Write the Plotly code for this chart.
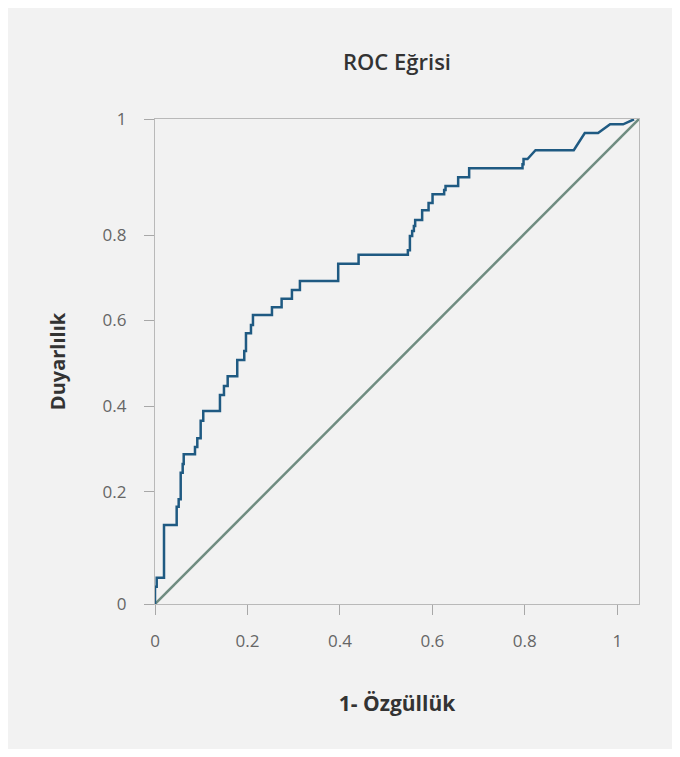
import plotly.graph_objects as go

# ROC curve points (1 - specificity, sensitivity)
fpr = [0, 0, 0.0037, 0.0037, 0.0195, 0.0195, 0.0469, 0.0469, 0.0512, 0.0512,
       0.0556, 0.0556, 0.0599, 0.0599, 0.0621, 0.0621, 0.0865, 0.0865, 0.0915, 0.0915,
       0.0988, 0.0988, 0.1044, 0.1044, 0.1405, 0.1405, 0.1492, 0.1492, 0.1572, 0.1572,
       0.1779, 0.1779, 0.1931, 0.1931, 0.1968, 0.1968, 0.2076, 0.2076, 0.2119, 0.2119,
       0.2530, 0.2530, 0.2739, 0.2739, 0.2962, 0.2962, 0.3135, 0.3135, 0.3963, 0.3963,
       0.4404, 0.4404, 0.5470, 0.5470, 0.5514, 0.5514, 0.5563, 0.5563, 0.5600, 0.5600,
       0.5628, 0.5628, 0.5779, 0.5779, 0.5918, 0.5918, 0.6004, 0.6004, 0.6255, 0.6255,
       0.6285, 0.6285, 0.6558, 0.6558, 0.6796, 0.6796, 0.7950, 0.7950, 0.7972, 0.7972,
       0.8058, 0.8231, 0.9059, 0.9297, 0.9585, 0.9845, 1.0126, 1.0363]
tpr = [0, 0.0357, 0.0357, 0.0542, 0.0542, 0.1629, 0.1629, 0.2006, 0.2006, 0.2159,
       0.2159, 0.2707, 0.2707, 0.2887, 0.2887, 0.3087, 0.3087, 0.3237, 0.3237, 0.3416,
       0.3416, 0.3779, 0.3779, 0.3979, 0.3979, 0.4309, 0.4309, 0.4495, 0.4495, 0.4695,
       0.4695, 0.5031, 0.5031, 0.5216, 0.5216, 0.5581, 0.5581, 0.5753, 0.5753, 0.5959,
       0.5959, 0.6118, 0.6118, 0.6295, 0.6295, 0.6474, 0.6474, 0.6660, 0.6660, 0.7016,
       0.7016, 0.7202, 0.7202, 0.7293, 0.7293, 0.7588, 0.7588, 0.7691, 0.7691, 0.7794,
       0.7794, 0.7918, 0.7918, 0.8118, 0.8118, 0.8268, 0.8268, 0.8447, 0.8447, 0.8536,
       0.8536, 0.8619, 0.8619, 0.8798, 0.8798, 0.8984, 0.8984, 0.9066, 0.9066, 0.9175,
       0.9175, 0.9355, 0.9355, 0.9711, 0.9711, 0.9891, 0.9891, 0.9994]

# Reference (chance) line
ref_x = [0, 1.047]
ref_y = [0, 1]

# Axis ticks
x_tickvals = [0, 0.2, 0.4, 0.6, 0.8, 1]
x_ticktext = ["0", "0.2", "0.4", "0.6", "0.8", "1"]
y_tickvals = [0, 0.231, 0.408, 0.585, 0.760, 1]
y_ticktext = ["0", "0.2", "0.4", "0.6", "0.8", "1"]

FONT = "Open Sans"
W, H = 664, 741

fig = go.Figure()
fig.add_trace(go.Scatter(x=ref_x, y=ref_y, mode="lines",
                         line=dict(color="#6f8c80", width=2.5),
                         hoverinfo="skip", showlegend=False))
fig.add_trace(go.Scatter(x=fpr, y=tpr, mode="lines",
                         line=dict(color="#1f5a82", width=2.5),
                         showlegend=False))

axis_common = dict(showline=True, linecolor="#b9b9b9", linewidth=1.3,
                   mirror=True, showgrid=False, zeroline=False,
                   ticks="outside", ticklen=10, tickcolor="#a8a8a8", tickwidth=1.3,
                   tickfont=dict(family=FONT, size=17, color="#666666"))

fig.update_layout(
    width=W, height=H,
    paper_bgcolor="#f2f2f2", plot_bgcolor="#f2f2f2",
    margin=dict(l=147, r=33, t=111, b=145),
    title=dict(text="ROC Eğrisi", x=0.5, xref="paper", xanchor="center",
               y=1 - 54 / H, yanchor="middle",
               font=dict(family=FONT, size=22, color="#333333", weight=600)),
    xaxis=dict(range=[0, 1.047], tickvals=x_tickvals, ticktext=x_ticktext,
               ticklabelstandoff=11,
               title=dict(text="1- Özgüllük", standoff=45,
                          font=dict(family=FONT, size=21, color="#333333", weight=700)),
               **axis_common),
    yaxis=dict(range=[0, 1], tickvals=y_tickvals, ticktext=y_ticktext,
               ticklabelstandoff=14,
               title=dict(text="Duyarlılık", standoff=31,
                          font=dict(family=FONT, size=20, color="#333333", weight=700)),
               **axis_common),
)

fig.write_html("out.html")
